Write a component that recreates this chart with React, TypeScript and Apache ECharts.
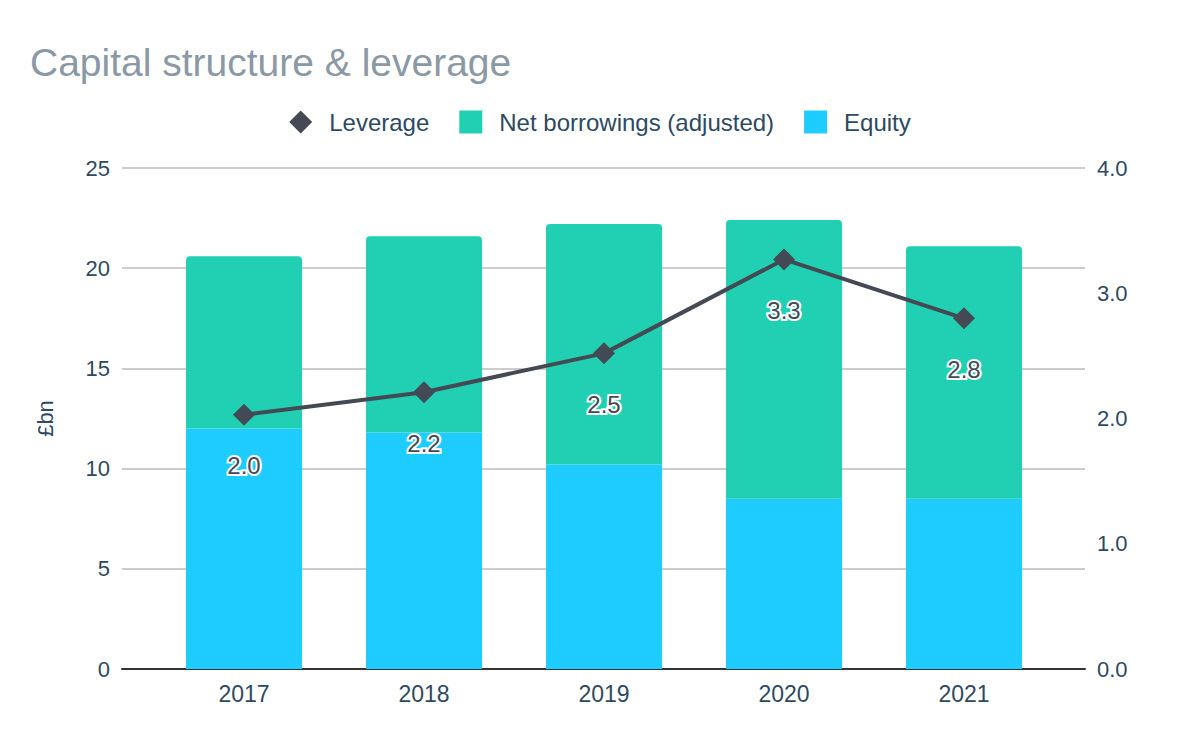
import React, { useEffect, useRef } from "react";
import * as echarts from "echarts";

const years = ["2017", "2018", "2019", "2020", "2021"];
const equity = [12.0, 11.8, 10.2, 8.5, 8.5];
const netBorrowings = [8.6, 9.8, 12.0, 13.9, 12.6];
const leverage = [2.03, 2.21, 2.52, 3.27, 2.8];
const leftTicks = [0, 25, 5];
const rightTicks = [0, 4, 1];

const FONT = "Arial, 'Liberation Sans', sans-serif";
const TEXT = "#2c4a63";

export default function App() {
  const ref = useRef<HTMLDivElement>(null);
  useEffect(() => {
    document.body.style.margin = "0";
    const chart = echarts.init(ref.current!, null, { renderer: "svg" });
    chart.setOption({
      animation: false,
      textStyle: { fontFamily: FONT },
      title: {
        text: "Capital structure & leverage",
        left: 25,
        top: 38,
        textStyle: { fontFamily: FONT, fontSize: 39, fontWeight: "normal", color: "#8a99a5" },
      },
      legend: {
        top: 105,
        left: "center",
        itemWidth: 23,
        itemHeight: 23,
        itemGap: 30,
        textStyle: { fontFamily: FONT, fontSize: 24, color: TEXT, padding: [0, 0, 0, 12] },
        data: [
          { name: "Leverage", icon: "diamond" },
          { name: "Net borrowings (adjusted)", icon: "rect" },
          { name: "Equity", icon: "rect" },
        ],
      },
      grid: [
        { left: 122, right: 115, top: 168, bottom: 73 },
        { left: 154, right: 146, top: 168, bottom: 73 },
      ],
      xAxis: [
        {
          type: "category",
          gridIndex: 0,
          data: years,
          axisLine: { lineStyle: { color: "#333333", width: 2 } },
          axisTick: { show: false },
          axisLabel: { show: false },
        },
        {
          type: "category",
          gridIndex: 1,
          data: years,
          axisLine: { show: false },
          axisTick: { show: false },
          axisLabel: { fontFamily: FONT, fontSize: 23, color: TEXT, margin: 13 },
        },
      ],
      yAxis: [
        {
          type: "value",
          gridIndex: 0,
          min: leftTicks[0],
          max: leftTicks[1],
          interval: leftTicks[2],
          name: "£bn",
          nameLocation: "middle",
          nameGap: 66,
          nameTextStyle: { fontFamily: FONT, fontSize: 22, color: TEXT },
          axisLine: { show: false },
          axisTick: { show: false },
          axisLabel: { fontFamily: FONT, fontSize: 22, color: TEXT, margin: 12 },
          splitLine: { lineStyle: { color: "#cccccc", width: 2 } },
        },
        {
          type: "value",
          gridIndex: 0,
          position: "right",
          min: rightTicks[0],
          max: rightTicks[1],
          interval: rightTicks[2],
          axisLine: { show: false },
          axisTick: { show: false },
          axisLabel: {
            fontFamily: FONT,
            fontSize: 22,
            color: TEXT,
            margin: 12,
            formatter: (v: number) => v.toFixed(1),
          },
          splitLine: { show: false },
        },
        {
          type: "value",
          gridIndex: 1,
          min: leftTicks[0],
          max: leftTicks[1],
          interval: leftTicks[2],
          show: false,
        },
        {
          type: "value",
          gridIndex: 1,
          min: rightTicks[0],
          max: rightTicks[1],
          interval: rightTicks[2],
          show: false,
        },
      ],
      series: [
        {
          name: "Equity",
          type: "bar",
          xAxisIndex: 1,
          yAxisIndex: 2,
          stack: "cap",
          barWidth: 116,
          data: equity,
          itemStyle: { color: "#1fccff" },
          z: 2,
        },
        {
          name: "Net borrowings (adjusted)",
          type: "bar",
          xAxisIndex: 1,
          yAxisIndex: 2,
          stack: "cap",
          barWidth: 116,
          data: netBorrowings,
          itemStyle: { color: "#21d0b2", borderRadius: [4, 4, 0, 0] },
          z: 2,
        },
        {
          name: "Leverage",
          type: "line",
          xAxisIndex: 1,
          yAxisIndex: 3,
          data: leverage,
          symbol: "diamond",
          symbolSize: 22,
          lineStyle: { color: "#434a54", width: 4 },
          itemStyle: { color: "#434a54" },
          z: 5,
          label: {
            show: true,
            position: "bottom",
            distance: 28,
            fontFamily: FONT,
            fontSize: 24,
            color: "#434a54",
            textBorderColor: "#ffffff",
            textBorderWidth: 4,
            formatter: (p: any) => p.value.toFixed(1),
          },
        },
      ],
    });
    return () => chart.dispose();
  }, []);
  return <div ref={ref} style={{ width: 1200, height: 742 }} />;
}
